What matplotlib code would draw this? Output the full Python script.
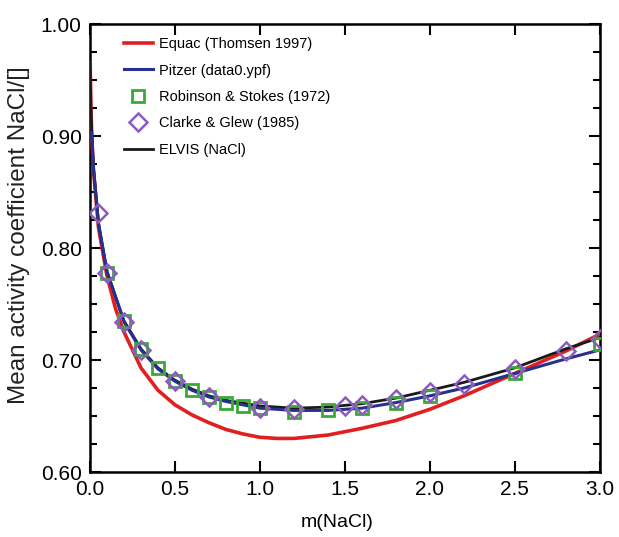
import matplotlib
matplotlib.use("Agg")
import matplotlib.pyplot as plt
from matplotlib.ticker import MultipleLocator

plt.rcParams['font.family'] = ['Liberation Sans', 'DejaVu Sans']

# Equac (Thomsen 1997)
m_equac = [0.001, 0.005, 0.01, 0.02, 0.05, 0.1, 0.15, 0.2, 0.3, 0.4, 0.5, 0.6, 0.7, 0.8, 0.9, 1.0,
           1.1, 1.2, 1.4, 1.6, 1.8, 2.0, 2.2, 2.5, 2.8, 3.0]
g_equac = [0.965, 0.928, 0.902, 0.870, 0.818, 0.775, 0.746, 0.725, 0.693, 0.673, 0.660, 0.651,
           0.644, 0.638, 0.634, 0.631, 0.630, 0.630, 0.633, 0.639, 0.646, 0.656, 0.668, 0.688,
           0.708, 0.723]

# Pitzer (data0.ypf)
m_pitzer = [0.01, 0.02, 0.05, 0.1, 0.2, 0.3, 0.4, 0.5, 0.6, 0.7, 0.8, 1.0, 1.2, 1.4, 1.6, 1.8,
            2.0, 2.2, 2.5, 2.8, 3.0]
g_pitzer = [0.903, 0.872, 0.822, 0.779, 0.734, 0.709, 0.692, 0.681, 0.673, 0.667, 0.663, 0.657,
            0.655, 0.655, 0.657, 0.662, 0.668, 0.675, 0.688, 0.701, 0.709]

# ELVIS (NaCl)
m_elvis = [0.001, 0.005, 0.01, 0.02, 0.05, 0.1, 0.2, 0.3, 0.4, 0.5, 0.6, 0.7, 0.8, 1.0, 1.2, 1.4,
           1.6, 1.8, 2.0, 2.2, 2.5, 2.8, 3.0]
g_elvis = [0.965, 0.928, 0.903, 0.872, 0.822, 0.779, 0.735, 0.710, 0.693, 0.682, 0.674, 0.668,
           0.664, 0.659, 0.657, 0.658, 0.661, 0.666, 0.673, 0.680, 0.693, 0.710, 0.720]

# Robinson & Stokes (1972)
m_rs = [0.1, 0.2, 0.3, 0.4, 0.5, 0.6, 0.7, 0.8, 0.9, 1.0, 1.2, 1.4, 1.6, 1.8, 2.0, 2.5, 3.0]
g_rs = [0.778, 0.735, 0.710, 0.693, 0.681, 0.673, 0.667, 0.662, 0.659, 0.657, 0.654, 0.655,
        0.657, 0.662, 0.668, 0.688, 0.714]

# Clarke & Glew (1985)
m_cg = [0.05, 0.1, 0.2, 0.3, 0.5, 0.7, 1.0, 1.2, 1.5, 1.6, 1.8, 2.0, 2.2, 2.5, 2.8, 3.0]
g_cg = [0.831, 0.778, 0.734, 0.709, 0.681, 0.667, 0.657, 0.656, 0.659, 0.660, 0.665, 0.671,
        0.679, 0.692, 0.708, 0.719]

fig = plt.figure(figsize=(6.19, 5.37), dpi=100)
ax = fig.add_axes([0.1454, 0.121, 0.969 - 0.1454, 0.9553 - 0.121])

ax.plot(m_equac, g_equac, color='#e02020', lw=2.6, label='Equac (Thomsen 1997)', zorder=3)
ax.plot(m_pitzer, g_pitzer, color='#27308f', lw=2.2, label='Pitzer (data0.ypf)', zorder=4)
ax.plot(m_rs, g_rs, ls='none', marker='s', ms=9, mfc='none', mec='#3aaa35', mew=2.0,
        label='Robinson & Stokes (1972)', zorder=5)
ax.plot(m_cg, g_cg, ls='none', marker='D', ms=9, mfc='none', mec='#8e5bbf', mew=1.8,
        label='Clarke & Glew (1985)', zorder=6)
ax.plot(m_elvis, g_elvis, color='#1a1a1a', lw=2.0, label='ELVIS (NaCl)', zorder=3)

ax.set_xlim(0, 3.0)
ax.set_ylim(0.60, 1.00)
ax.xaxis.set_major_locator(MultipleLocator(0.5))
ax.yaxis.set_major_locator(MultipleLocator(0.1))
ax.yaxis.set_minor_locator(MultipleLocator(0.025))
ax.xaxis.set_major_formatter(matplotlib.ticker.FormatStrFormatter('%.1f'))
ax.yaxis.set_major_formatter(matplotlib.ticker.FormatStrFormatter('%.2f'))
ax.tick_params(which='both', direction='in', top=True, right=True, width=1.5)
ax.tick_params(which='major', length=8, labelsize=15, pad=6)
ax.tick_params(which='minor', length=5)
for s in ax.spines.values():
    s.set_linewidth(1.8)

ax.set_xlabel('m(NaCl)', fontsize=14)
ax.xaxis.set_label_coords(0.485, -0.093)
ax.set_ylabel('Mean activity coefficient NaCl/[]', fontsize=17.5, color='#222222')
ax.yaxis.set_label_coords(-0.118, 0.528)

ax.legend(loc='upper left', bbox_to_anchor=(0.04, 1.0), frameon=False, fontsize=10.5,
          handlelength=2.0, handletextpad=0.4, labelspacing=0.85, borderaxespad=0.5)

fig.savefig('out.png', dpi=100)
